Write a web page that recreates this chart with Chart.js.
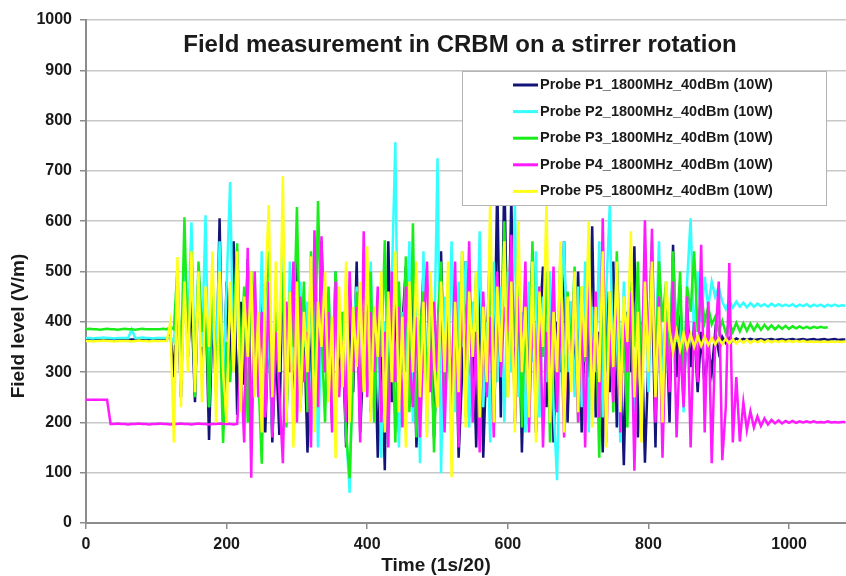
<!DOCTYPE html>
<html>
<head>
<meta charset="utf-8">
<script src="https://cdn.jsdelivr.net/npm/chart.js@4.4.1/dist/chart.umd.min.js"></script>
<style>
  body { margin: 0; background: #fff; }
  #wrap { position: relative; width: 846px; height: 576px; }
</style>
</head>
<body>
<div id="wrap"><canvas id="myChart" width="846" height="576"></canvas></div>
<script>
// samples every 5 units of time (1s/20), starting at 0
const STEP = 5
const chartTitle = 'Field measurement in CRBM on a stirrer rotation'
const xTitle = 'Time (1s/20)'
const yTitle = 'Field level (V/m)'
const probeLabels = [
    'Probe P1_1800MHz_40dBm (10W)',
    'Probe P2_1800MHz_40dBm (10W)',
    'Probe P3_1800MHz_40dBm (10W)',
    'Probe P4_1800MHz_40dBm (10W)',
    'Probe P5_1800MHz_40dBm (10W)'
]
const probeColors = ['#141478', '#33ffff', '#1aee1a', '#ff1aff', '#ffff1a']

const p1 = [
    365,366,365,364,365,366,365,365,364,365,366,365,364,365,365,366,365,364,365,365,
    365,365,366,365,380,290,470,250,520,330,440,240,505,300,455,165,420,260,606,230,
    480,300,560,215,440,275,525,190,390,300,470,180,410,160,350,175,540,210,450,260,
    520,230,400,140,330,470,250,560,300,430,200,500,280,360,150,450,260,520,180,340,
    480,220,410,130,360,105,560,240,450,180,390,510,230,470,150,340,500,220,420,170,
    360,540,250,430,190,470,130,300,520,210,400,150,480,130,350,560,260,680,210,700,
    300,650,200,480,140,420,260,540,180,390,510,230,450,160,400,300,560,200,440,270,
    500,180,410,290,590,210,380,140,460,260,520,190,360,115,420,300,550,170,400,120,
    330,480,150,520,260,430,200,553,290,470,240,430,310,400,260,380,270,350,300,380,
    340,370,358,368,362,367,363,366,364,366,364,365,366,364,365,366,364,365,366,364,
    365,366,364,365,366,364,365,366,364,365,366,364,365,366,364,365,365
]
const p2 = [
    368,368,367,368,368,369,368,368,367,368,368,368,368,385,368,368,369,368,368,367,
    368,368,368,368,370,360,455,300,540,380,598,290,500,350,612,230,440,320,560,260,
    470,678,300,520,250,420,360,150,480,280,540,220,400,180,450,300,612,200,520,320,
    260,480,350,440,190,520,150,400,300,460,230,500,330,420,180,60,380,470,220,430,
    300,520,200,450,130,400,280,480,757,150,420,300,560,200,470,119,540,180,430,330,
    725,99,450,300,560,220,480,350,520,190,440,300,580,230,400,160,520,280,470,200,
    500,300,632,250,420,180,480,320,540,210,450,280,500,230,85,420,560,300,440,250,
    470,230,520,180,430,300,560,210,460,633,280,400,160,480,300,540,220,450,350,500,
    260,470,330,560,250,420,300,520,380,460,220,480,606,360,500,400,490,430,480,450,
    470,440,425,442,428,440,430,438,429,437,430,436,431,435,430,436,431,435,431,434,
    431,435,430,434,431,435,430,434,431,434,430,434,431,434,431,433,432
]
const p3 = [
    385,386,385,385,384,385,386,385,385,384,385,386,385,385,384,385,386,385,385,385,
    385,385,386,385,390,385,507,298,608,330,540,250,520,380,450,230,480,300,420,159,
    360,280,400,556,320,470,200,500,380,300,118,450,540,240,420,330,500,190,460,350,
    628,300,480,220,540,260,640,380,200,470,250,500,330,420,180,89,300,460,230,420,
    280,500,200,440,330,562,250,410,160,480,300,530,220,596,170,380,460,260,420,140,
    380,520,240,460,150,420,300,540,210,470,330,500,180,440,260,560,200,420,310,600,
    250,480,350,520,190,440,280,560,230,470,330,500,160,420,300,540,220,460,340,510,
    200,470,320,560,240,430,130,500,300,460,220,540,310,420,190,480,350,520,260,440,
    330,560,280,520,400,480,300,540,360,500,260,470,420,540,380,460,400,430,395,410,
    380,402,378,400,380,398,381,397,382,396,383,395,384,394,385,393,385,392,386,392,
    386,391,387,391,387,390,387,390,388,390,388,389,null,null,null,null,null
]
const p4 = [
    245,245,245,245,245,245,245,197,197,198,197,197,196,197,197,198,197,197,196,197,
    197,198,197,197,196,197,197,198,197,197,196,197,198,197,197,196,197,197,198,197,
    197,197,196,197,320,160,547,90,500,250,420,210,480,170,380,260,119,440,300,520,
    200,450,280,380,150,582,230,570,300,420,180,480,250,360,200,500,300,430,160,580,
    250,420,300,470,200,380,150,500,280,430,190,470,330,230,410,170,360,520,260,440,
    300,470,180,400,260,520,150,430,310,560,200,380,140,460,250,410,170,500,290,430,
    380,573,200,450,300,520,180,420,260,470,150,380,300,510,220,440,170,400,310,480,
    200,430,150,520,280,460,210,606,160,390,240,500,180,420,300,460,104,380,250,602,
    300,585,200,450,130,400,260,480,170,360,230,450,150,400,280,553,180,440,119,360,
    480,125,230,517,160,290,162,240,185,222,190,212,193,208,196,205,198,204,198,203,
    199,203,199,202,200,202,200,202,200,201,200,202,200,201,200,201,201
]
const p5 = [
    362,362,361,362,362,363,362,362,361,362,362,362,362,361,362,363,362,362,361,362,
    362,362,362,362,400,160,529,230,480,300,540,260,500,240,470,350,540,200,500,300,
    199,480,300,540,220,450,330,500,250,420,180,470,632,250,520,300,690,200,460,150,
    480,220,420,300,530,180,440,350,500,240,410,129,470,270,520,200,430,310,480,260,
    550,200,430,330,500,180,460,280,540,220,410,150,480,300,520,250,440,170,500,320,
    230,480,300,520,91,440,260,540,190,460,330,500,210,430,280,650,200,470,320,560,
    250,480,180,600,300,430,210,520,160,460,350,640,200,420,300,560,180,450,260,500,
    220,470,330,600,190,430,280,540,150,460,310,520,220,450,360,580,250,420,160,480,
    300,520,250,430,200,480,385,340,380,345,378,348,375,350,372,352,370,354,368,355,
    367,356,366,357,365,357,364,358,364,358,363,359,363,359,363,359,362,360,362,360,
    362,360,362,360,362,360,361,360,361,360,361,360,361,360,361,360,361
]

const fontFamily = '"Liberation Sans", Arial, sans-serif'
const probeValues = [p1, p2, p3, p4, p5]

const toPoints = (vals) => vals.map((v, i) => ({ x: i * STEP, y: v }))

// titles and the boxed legend sit inside the plot area, like the original
const overlayPlugin = {
    id: 'overlay',
    afterDatasetsDraw(chart) {
        const ctx = chart.ctx
        ctx.save()
        // legend box
        const bx = 462, by = 71, bw = 364, bh = 134
        ctx.fillStyle = '#ffffff'
        ctx.fillRect(bx, by, bw, bh)
        ctx.strokeStyle = '#b4b4b4'
        ctx.lineWidth = 1
        ctx.strokeRect(bx + 0.5, by + 0.5, bw, bh)
        ctx.font = 'bold 14.5px ' + fontFamily
        ctx.textBaseline = 'middle'
        ctx.textAlign = 'left'
        probeLabels.forEach((label, i) => {
            const y = 85 + i * 26.6
            ctx.strokeStyle = probeColors[i]
            ctx.lineWidth = 3
            ctx.beginPath()
            ctx.moveTo(513, y)
            ctx.lineTo(538, y)
            ctx.stroke()
            ctx.fillStyle = '#1a1a1a'
            ctx.fillText(label, 540, y)
        })
        ctx.restore()
    },
    afterDraw(chart) {
        const ctx = chart.ctx
        ctx.save()
        ctx.fillStyle = '#1a1a1a'
        ctx.textAlign = 'center'
        ctx.textBaseline = 'middle'
        ctx.font = 'bold 24px ' + fontFamily
        ctx.fillText(chartTitle, 460, 45)
        ctx.font = 'bold 19px ' + fontFamily
        ctx.fillText(xTitle, 436, 566)
        ctx.translate(19, 326)
        ctx.rotate(-Math.PI / 2)
        ctx.fillText(yTitle, 0, 0)
        ctx.restore()
    }
}

function renderChart() {
    const grafica = document.querySelector('#myChart')
    // last series first so that P5 is drawn on top, as in the original
    const datasets = probeValues.map((vals, i) => ({
        label: probeLabels[i],
        data: toPoints(vals),
        borderColor: probeColors[i],
        backgroundColor: probeColors[i],
        borderWidth: 2.5,
        pointRadius: 0,
        tension: 0,
        spanGaps: false
    })).reverse()

    const config = {
        type: 'line',
        data: { datasets: datasets },
        options: {
            responsive: false,
            animation: false,
            devicePixelRatio: 1,
            layout: { padding: { top: 20, right: 0, bottom: 0, left: 0 } },
            plugins: {
                legend: { display: false },
                title: { display: false },
                tooltip: { enabled: false }
            },
            scales: {
                x: {
                    type: 'linear',
                    min: 0,
                    max: 1081,
                    afterBuildTicks: (scale) => {
                        scale.ticks = scale.ticks.filter(t => t.value % 200 === 0)
                    },
                    afterFit: (scale) => { scale.height = 53 },
                    ticks: {
                        stepSize: 200,
                        padding: 6,
                        color: '#1a1a1a',
                        font: { family: fontFamily, size: 16, weight: 'bold' },
                        maxRotation: 0,
                        callback: (value) => String(value)
                    },
                    grid: { drawOnChartArea: false, drawTicks: true, tickLength: 6, color: '#8c8c8c', lineWidth: 1.5 },
                    border: { color: '#8c8c8c', width: 2 }
                },
                y: {
                    min: 0,
                    max: 1000,
                    afterFit: (scale) => { scale.width = 86 },
                    ticks: {
                        stepSize: 100,
                        padding: 8,
                        color: '#1a1a1a',
                        font: { family: fontFamily, size: 16, weight: 'bold' },
                        callback: (value) => String(value)
                    },
                    grid: { color: '#c8c8c8', lineWidth: 1.5, tickLength: 6, tickColor: '#8c8c8c' },
                    border: { color: '#8c8c8c', width: 2 }
                }
            }
        },
        plugins: [overlayPlugin]
    }
    const myChart = new Chart(grafica, config)
    myChart.render()
}

document.addEventListener('DOMContentLoaded', (event) => {
    renderChart()
})
</script>
</body>
</html>
